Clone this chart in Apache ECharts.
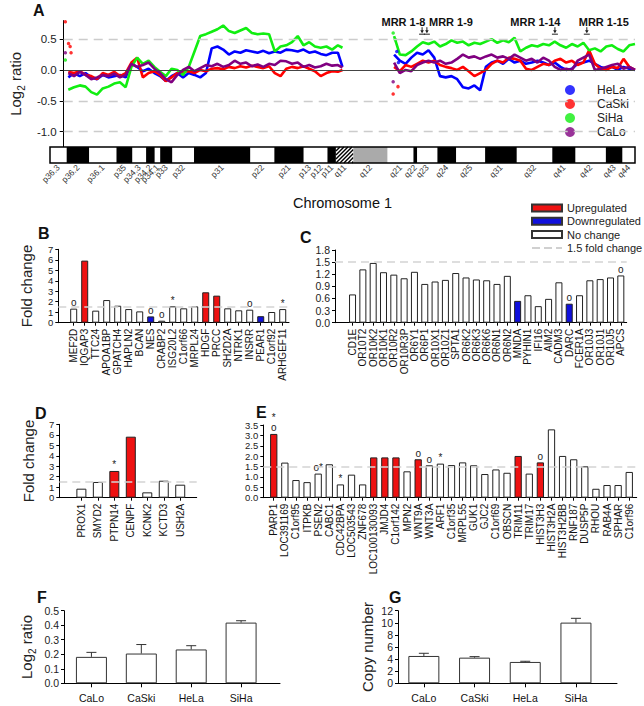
<!DOCTYPE html>
<html><head><meta charset="utf-8">
<script src="https://cdn.jsdelivr.net/npm/echarts@6/dist/echarts.min.js"></script>
<style>html,body{margin:0;padding:0;background:#fff}#c{width:644px;height:706px}</style>
</head><body><div id="c"></div>
<script>
// ===== Panel A: log2 ratio along chromosome 1 (positions in Mb) =====
const posP = [2,4.5,7,9.5,12,14.5,17,19.5,22,24.5,27,29.5,32,34.5,37,39.5,42,44.5,47,49.5,52,54.5,57,59.5,62,64.5,67,69.5,72,74.5,77,79.5,82,84.5,87,89.5,92,94.5,97,99.5,102,104.5,107,109.5,112,114.5,117,119.5,121.5];
const posQ = [144,146.5,149,151.5,154,156.5,159,161.5,164,166.5,169,171.5,174,176.5,179,181.5,184,186.5,189,191.5,194,196.5,199,201.5,204,206.5,209,211.5,214,216.5,219,221.5,224,226.5,229,231.5,234,236.5,239,241.5,244,246.5,249];

const helaP = [-0.12,-0.05,-0.10,-0.05,-0.12,-0.15,-0.08,-0.12,-0.10,-0.08,-0.12,0.10,0.05,-0.02,0.02,-0.05,-0.10,-0.18,-0.10,-0.05,-0.12,-0.05,-0.08,-0.12,-0.05,0.35,0.38,0.33,0.25,0.30,0.28,0.32,0.30,0.28,0.31,0.27,0.30,0.28,0.33,0.32,0.30,0.33,0.28,0.30,0.26,0.24,0.28,0.28,0.05];
const helaQ = [0.25,0.15,0.10,0.20,0.28,0.25,0.32,0.20,-0.10,-0.12,-0.10,-0.15,-0.28,-0.30,-0.25,-0.33,0.05,0.12,0.15,0.10,0.18,0.12,0.15,0.10,0.12,0.15,0.12,0.08,0.12,0.05,0.0,0.02,0.10,0.12,0.15,0.10,0.05,0.02,0.05,0.0,0.05,0.02,0.0];
const caskiP = [-0.03,-0.05,-0.02,-0.08,-0.10,-0.15,-0.05,-0.08,-0.03,-0.10,-0.05,0.12,0.20,-0.12,-0.05,-0.02,-0.08,-0.18,-0.12,-0.05,-0.03,-0.02,-0.05,0.00,-0.02,0.02,0.03,0.01,0.05,0.03,0.06,0.04,0.07,0.05,0.03,0.06,-0.05,-0.10,0.02,0.05,0.03,0.06,0.02,-0.02,-0.10,-0.05,-0.02,-0.03,0.0];
const caskiQ = [0.05,-0.02,0.08,0.05,0.10,0.15,0.12,0.15,0.08,0.05,0.03,0.0,0.05,-0.02,-0.10,-0.05,0.0,0.10,0.15,0.12,0.20,0.18,0.15,0.02,0.0,0.05,0.10,0.08,0.15,0.18,0.12,0.15,0.08,0.12,0.32,0.10,0.02,0.0,0.05,0.03,0.18,0.05,0.0];
const sihaP = [-0.32,-0.28,-0.25,-0.27,-0.36,-0.40,-0.30,-0.27,-0.22,-0.20,-0.28,0.05,0.20,0.10,0.15,0.05,-0.03,-0.10,0.02,0.00,-0.08,0.05,0.30,0.55,0.58,0.62,0.66,0.72,0.63,0.60,0.64,0.68,0.60,0.58,0.59,0.58,0.30,0.38,0.40,0.45,0.55,0.40,0.45,0.38,0.36,0.38,0.33,0.40,0.36];
const sihaQ = [0.55,0.25,0.24,0.30,0.38,0.45,0.42,0.46,0.38,0.42,0.48,0.44,0.46,0.40,0.44,0.42,0.46,0.50,0.44,0.48,0.45,0.52,0.30,0.36,0.40,0.38,0.42,0.40,0.46,0.40,0.36,0.42,0.38,0.44,0.32,0.35,0.30,0.38,0.40,0.34,0.30,0.40,0.42];
const caloP = [-0.05,-0.10,-0.03,-0.08,-0.15,-0.12,-0.08,-0.10,-0.06,-0.12,-0.08,0.10,0.05,0.08,0.12,0.02,-0.05,-0.15,-0.20,-0.08,0.00,0.05,-0.02,0.03,0.08,0.06,0.10,0.05,0.08,0.15,0.10,0.12,0.06,0.09,0.05,0.10,0.08,0.15,0.14,0.10,0.12,0.05,0.08,0.04,0.06,0.10,0.07,0.08,0.04];
const caloQ = [0.12,-0.05,0.0,-0.02,0.08,0.12,0.15,0.12,0.15,0.10,0.12,0.18,0.25,0.20,0.22,0.18,0.22,0.25,0.20,0.22,0.18,0.25,0.20,0.15,0.18,0.12,0.20,0.15,0.05,0.0,0.02,0.0,0.15,0.20,0.25,0.0,0.02,0.05,0.08,0.10,0.02,0.05,0.0];
// isolated probes [Mb, log2 ratio]
const helaDots = [[145.2,0.30],[145.9,0.12]];
const caskiDots = [[0.7,0.78],[2.1,0.43],[2.8,0.38],[3.2,0.28],[143.6,-0.39],[145.7,-0.27]];
const sihaDots = [[0.7,0.16],[143.6,0.60],[144.6,0.49]];
const caloDots = [[0.7,0.28],[143.6,-0.19]];
const aTicks = [-1.0,-0.5,0.0,0.5];
const aGrid = [0.5,-0.5,-1.0];

// minimal regions of recurrence
const mrrNames = ['MRR 1-8','MRR 1-9','MRR 1-14','MRR 1-15'];
const mrrMb = [156.2,158.3,214.1,228.0];
const mrrLabelMb = [148.1,168.8,205.6,235.4];

// ideogram of chromosome 1 (Mb)
const bandNames = ['p36.3','p36.2','p36.1','p35','p34.3','p34.2','p34.1','p33','p32','p31','p22','p21','p13','p12','p11','q11','q12','q21','q22','q23','q24','q25','q31','q32','q41','q42','q43','q44'];
const bandStart = [0,7.1,16.7,28.3,35.1,40.9,44.6,46.9,52.1,61.3,85.3,95.5,108.0,112.8,118.1,121.7,129.1,143.7,154.7,156.3,164.9,172.9,185.2,198.7,213.8,223.7,236.6,243.7];
const bandEnd = [7.1,16.7,28.3,35.1,40.9,44.6,46.9,52.1,61.3,85.3,95.5,108.0,112.8,118.1,121.7,129.1,143.7,154.7,156.3,164.9,172.9,185.2,198.7,213.8,223.7,236.6,243.7,249.0];
const bandStain = ['w','b','w','b','w','b','w','b','w','b','w','b','w','w','b','h','g','w','b','w','b','w','b','w','b','w','b','w'];

// ===== Panels B-E: fold change =====
const catsB = ['MEF2D','IQGAP3','TTC24','APOA1BP','GPATCH4','HAPLN2','BCAN','NES','CRABP2','ISG20L2','C1orf66','MRPL24','HDGF','PRCC','SH2D2A','NTRK1','INSRR','PEAR1','C1orf92','ARHGEF11'];
const valsB = [1.34,5.92,1.15,2.16,1.62,1.30,1.08,0.60,0.19,1.56,1.37,1.56,2.90,2.58,1.37,1.18,1.24,0.62,1.02,1.30];
const statB = ['n','u','n','n','n','n','n','d','n','n','n','n','u','u','n','n','n','d','n','n'];
const markB = ['o','','','','','','','o','o','*','','','','','','','o','','','*'];

const catsC = ['CD1E','OR10T2','OR10K2','OR10K1','OR10R2','OR10R3P','OR6Y1','OR6P1','OR10X1','OR10Z1','SPTA1','OR6K2','OR6K3','OR6K6','OR6N1','OR6N2','MNDA','PYHIN1','IFI16','AIM2','CADM3','DARC','FCER1A','OR10J3','OR10J1','OR10J5','APCS'];
const valsC = [0.70,1.32,1.48,1.25,1.19,1.10,1.26,0.96,1.02,1.06,1.23,1.12,1.07,1.05,0.96,1.16,0.54,0.68,0.41,0.59,1.00,0.47,0.68,1.05,1.08,1.12,1.17];
const statC = ['n','n','n','n','n','n','n','n','n','n','n','n','n','n','n','n','d','n','n','n','n','d','n','n','n','n','n'];
const markC = ['','','','','','','','','','','','','','','','','','','','','','o','','','','','o'];

const catsD = ['PROX1','SMYD2','PTPN14','CENPF','KCNK2','KCTD3','USH2A'];
const valsD = [0.86,1.50,2.55,5.82,0.51,1.62,1.24];
const statD = ['n','n','u','u','n','n','n'];
const markD = ['','','*','','','',''];

const catsE = ['PARP1','LOC391169','C1orf95','ITPKB','PSEN2','CABC1','CDC42BPA','LOC503543','ZNF678','LOC100130093','JMJD4','C1orf142','MPN2','WNT9A','WNT3A','ARF1','C1orf35','MRPL55','GUK1','GJC2','C1orf69','OBSCN','TRIM11','TRIM17','HIST3H3','HIST3H2A','HIST3H2BB','RNF187','DUSP5P','RHOU','RAB4A','SPHAR','C1orf96'];
const valsE = [3.07,1.69,0.85,0.75,1.16,1.61,0.64,1.11,0.64,1.94,1.94,1.94,1.27,1.85,1.56,1.64,1.57,1.70,1.56,1.14,1.36,1.20,2.01,1.16,1.70,3.29,2.01,1.85,1.51,0.43,0.61,0.61,1.24];
const statE = ['u','n','n','n','n','n','n','n','n','u','u','u','n','u','n','n','n','n','n','n','n','n','u','n','u','n','n','n','n','n','n','n','n'];
const markE = ['*\no','','','','o*','','*','','','','','','','o','o','*','','','','','','','','','o','','','','','','','',''];
const foldThreshold = 1.5;

// ===== Panels F, G =====
const cellLines = ['CaLo','CaSki','HeLa','SiHa'];
const fLog2 = [0.182,0.205,0.233,0.418];
const fErr = [0.031,0.062,0.026,0.013];
const gCopy = [4.52,4.24,3.53,10.03];
const gErr = [0.44,0.17,0.11,0.71];

// ---------------------------------------------------------------
const SANS = '"Liberation Sans",Arial,sans-serif';
const colA = {HeLa:'#0000ff', CaSki:'#ff0000', SiHa:'#11ee11', CaLo:'#800080'};
const statusColor = {u:'#ee1111', d:'#1010dd', n:'#ffffff'};
const subName = {rich:{a:{fontSize:15, fontFamily:SANS, color:'#222', verticalAlign:'bottom', lineHeight:15}, b:{fontSize:10, fontFamily:SANS, color:'#222', verticalAlign:'bottom', lineHeight:11, padding:[0,0,-3,0]}}};

const grids = [
  {left:50, top:20.6, width:585, height:126.5},
  {left:50, top:147, width:585, height:16, show:true, borderColor:'#000', borderWidth:1.5, backgroundColor:'rgba(0,0,0,0)', z:10},
  {left:58.3, top:249.3, width:230.7, height:73.4},
  {left:335, top:250, width:291.7, height:72.7},
  {left:59.3, top:424.3, width:137.4, height:73.4},
  {left:263.3, top:425, width:373.4, height:72.7},
  {left:64, top:610.7, width:216, height:72.6},
  {left:398, top:610.7, width:219, height:72.6}
];
const xAxes = [], yAxes = [], series = [];
const bandCenters = bandStart.map((s,i)=>(s+bandEnd[i])/2);

// A axes
xAxes.push({gridIndex:0, type:'value', min:0, max:249, show:false});
yAxes.push({gridIndex:0, type:'value', min:-1.25, max:0.8, splitLine:{show:false},
  axisLine:{show:true, onZero:false, lineStyle:{color:'#000'}},
  axisTick:{show:true, customValues:aTicks, length:4, lineStyle:{color:'#000'}},
  axisLabel:{customValues:aTicks, formatter:v=>v.toFixed(1), fontSize:11.5, lineHeight:9, color:'#222', margin:7},
  name:'{a|Log}{b|2}{a| ratio}', nameLocation:'middle', nameGap:31, nameTextStyle:subName});
// ideogram axes
xAxes.push({gridIndex:1, type:'value', min:0, max:249, splitLine:{show:false}, axisLine:{show:false}, axisTick:{show:false},
  axisLabel:{customValues:bandCenters, rotate:45, margin:3, fontSize:8.5, lineHeight:6, color:'#333',
    formatter:v=>{let k=0,d=1e9;bandCenters.forEach((c,i)=>{if(Math.abs(c-v)<d){d=Math.abs(c-v);k=i;}});return bandNames[k];}},
  name:'Chromosome 1', nameLocation:'middle', nameGap:32, nameTextStyle:{fontSize:14.5, color:'#111'}});
yAxes.push({gridIndex:1, type:'value', min:0, max:1, show:false});

function yAxisDef(gi, max, interval, fmt, name, gap, fs){
  const d = {gridIndex:gi, type:'value', min:0, max:max, interval:interval, splitLine:{show:false},
    axisLine:{show:true, onZero:false, lineStyle:{color:'#000'}},
    axisTick:{show:true, length:3, lineStyle:{color:'#000'}},
    axisLabel:{formatter:fmt, fontSize:fs, lineHeight:6, textMargin:0, color:'#222', margin:5, showMinLabel:true, showMaxLabel:true}};
  if(name){ d.name=name; d.nameLocation='middle'; d.nameGap=gap; d.nameTextStyle={fontSize:15, color:'#222'}; }
  return d;
}
function barPanel(gi, cats, vals, stat, marks, xmin, xmax, ymax, yint, fmt, barW, yName, gap, yfs){
  const idx = cats.map((c,i)=>i);
  xAxes.push({gridIndex:gi, type:'value', min:xmin, max:xmax, splitLine:{show:false},
    axisLine:{onZero:false, lineStyle:{color:'#000'}},
    axisTick:{customValues:idx, length:3, lineStyle:{color:'#000'}},
    axisLabel:{customValues:idx, rotate:90, formatter:v=>cats[Math.round(v)], fontSize:10, lineHeight:7, color:'#111', margin:6}});
  yAxes.push(yAxisDef(gi, ymax, yint, fmt, yName, gap, yfs));
  series.push({type:'bar', xAxisIndex:gi, yAxisIndex:gi, z:3, barWidth:barW,
    data: vals.map((v,i)=>[i,v]),
    itemStyle:{color:p=>statusColor[stat[p.dataIndex]], borderColor:'#222', borderWidth:1},
    label:{show:true, position:'top', distance:1, formatter:p=>marks[p.dataIndex], fontSize:10, lineHeight:10, color:'#222'}});
  series.push({name:'1.5 fold change', type:'line', xAxisIndex:gi, yAxisIndex:gi, z:1, data:[], symbol:'none', showSymbol:false,
    itemStyle:{color:'#d0d0d0'}, lineStyle:{color:'#d0d0d0', type:'dashed', width:1.5},
    markLine:{silent:true, symbol:'none', label:{show:false}, lineStyle:{color:'#d4d4d4', type:[8,5], width:1.5}, data:[{yAxis:foldThreshold}]}});
}

barPanel(2, catsB, valsB, statB, markB, -1.4, 19.57, 7, 1, v=>v, 7, 'Fold change', 24, 9.5);
barPanel(3, catsC, valsC, statC, markC, -1.7, 26.57, 1.8, 0.3, v=>v.toFixed(1), 7, null, 0, 10.5);
barPanel(4, catsD, valsD, statD, markD, -1.34, 7.0, 7, 1, v=>v, 10, 'Fold change', 23, 9.5);
barPanel(5, catsE, valsE, statE, markE, -0.94, 32.67, 3.5, 0.5, v=>v.toFixed(1), 7.3, null, 0, 9.5);

function errPanel(gi, vals, errs, xmin, xmax, ymax, yint, fmt, yName, gap, richName){
  const idx = cellLines.map((c,i)=>i);
  xAxes.push({gridIndex:gi, type:'value', min:xmin, max:xmax, splitLine:{show:false},
    axisLine:{onZero:false, lineStyle:{color:'#000'}},
    axisTick:{customValues:idx, length:4, lineStyle:{color:'#000'}},
    axisLabel:{customValues:idx, formatter:v=>cellLines[Math.round(v)], fontSize:10.5, color:'#111', margin:9}});
  const y = yAxisDef(gi, ymax, yint, fmt, yName, gap, 10.5);
  if(richName){ y.nameTextStyle = richName; }
  yAxes.push(y);
  series.push({type:'bar', xAxisIndex:gi, yAxisIndex:gi, z:3, barWidth:31, data:vals.map((v,i)=>[i,v]),
    itemStyle:{color:'#fff', borderColor:'#333', borderWidth:1}});
  series.push({type:'custom', xAxisIndex:gi, yAxisIndex:gi, z:4, data:vals.map((v,i)=>[i,v,errs[i]]),
    renderItem:(params, api)=>{
      const i=api.value(0), v=api.value(1), e=api.value(2);
      const b=api.coord([i,v]), t=api.coord([i,v+e]);
      return {type:'group', children:[
        {type:'line', shape:{x1:b[0],y1:b[1],x2:t[0],y2:t[1]}, style:{stroke:'#333', lineWidth:1}},
        {type:'line', shape:{x1:t[0]-5,y1:t[1],x2:t[0]+5,y2:t[1]}, style:{stroke:'#333', lineWidth:1}}]};
    }});
}
errPanel(6, fLog2, fErr, -0.55, 3.78, 0.5, 0.1, v=>v.toFixed(1), '{a|Log}{b|2}{a| ratio}', 30, subName);
errPanel(7, gCopy, gErr, -0.51, 3.81, 12, 2, v=>v, 'Copy number', 23, null);

// ----- Panel A series -----
const gapPt = [[132,'-']];
function lineData(p,q){ return posP.map((x,i)=>[x,p[i]]).concat(gapPt, posQ.map((x,i)=>[x,q[i]])); }
series.push({type:'line', xAxisIndex:0, yAxisIndex:0, data:[], z:1,
  markLine:{silent:true, symbol:'none', label:{show:false},
    data: aGrid.map(v=>({yAxis:v, lineStyle:{color:'#cccccc', type:[9,6], width:1.3}})).concat([{yAxis:0, lineStyle:{color:'#444', type:'solid', width:1}}])}});
// probe dots (named by cell line; they carry the legend)
[['HeLa',helaDots],['CaSki',caskiDots],['SiHa',sihaDots],['CaLo',caloDots]].forEach(([n,d])=>{
  series.push({name:n, type:'scatter', xAxisIndex:0, yAxisIndex:0, z:2, data:d, symbolSize:3.5, itemStyle:{color:colA[n]}});
});
[['HeLa',helaP,helaQ],['CaSki',caskiP,caskiQ],['SiHa',sihaP,sihaQ],['CaLo',caloP,caloQ]].forEach(([n,p,q])=>{
  series.push({name:n+' profile', type:'line', xAxisIndex:0, yAxisIndex:0, z:2, data:lineData(p,q), showSymbol:false,
    connectNulls:false, color:colA[n], lineStyle:{width:2.6, color:colA[n]}, itemStyle:{color:colA[n]}});
});
// MRR annotations
series.push({type:'custom', xAxisIndex:0, yAxisIndex:0, z:5, data:mrrMb.map((m,i)=>[m, mrrLabelMb[i]]),
  renderItem:(params, api)=>{
    const r = api.coord([api.value(0), 0.58]);
    const l = api.coord([api.value(1), 0.58]);
    const x = r[0], y = r[1];
    return {type:'group', children:[
      {type:'text', style:{text:mrrNames[params.dataIndex], x:l[0], y:y-7, align:'center', verticalAlign:'bottom', fontSize:11, fontWeight:'bold', fontFamily:SANS, fill:'#111'}},
      {type:'line', shape:{x1:x, y1:y-7, x2:x, y2:y-2}, style:{stroke:'#222', lineWidth:1}},
      {type:'polygon', shape:{points:[[x-1.8,y-4],[x+1.8,y-4],[x,y-1]]}, style:{fill:'#222'}},
      {type:'line', shape:{x1:x-3, y1:y, x2:x+3, y2:y}, style:{stroke:'#222', lineWidth:1}}
    ]};
  }});
// ideogram bands
series.push({type:'custom', xAxisIndex:1, yAxisIndex:1, z:2, data:bandStart.map((s,i)=>[s, bandEnd[i]]),
  renderItem:(params, api)=>{
    const p0 = api.coord([api.value(0),1]), p1 = api.coord([api.value(1),0]);
    const x=p0[0], y=p0[1], w=p1[0]-p0[0], h=p1[1]-p0[1];
    const st = bandStain[params.dataIndex];
    const fill = st==='b' ? '#000' : st==='g' ? '#aaaaaa' : '#fff';
    const kids = [{type:'rect', shape:{x, y, width:w, height:h}, style:{fill}}];
    if(st==='h'){
      for(let a=x-h; a<x+w; a+=4){
        const t0=Math.max(0,x-a), t1=Math.min(h,x+w-a);
        if(t1>t0) kids.push({type:'line', shape:{x1:a+t0, y1:y+h-t0, x2:a+t1, y2:y+h-t1}, style:{stroke:'#000', lineWidth:1.4}});
      }
    }
    return {type:'group', children:kids};
  }});
// legend-only series
series.push({name:'Upregulated', type:'bar', xAxisIndex:1, yAxisIndex:1, data:[], itemStyle:{color:'#ee1111', borderColor:'#333', borderWidth:1}});
series.push({name:'Downregulated', type:'bar', xAxisIndex:1, yAxisIndex:1, data:[], itemStyle:{color:'#1010dd', borderColor:'#333', borderWidth:1}});
series.push({name:'No change', type:'bar', xAxisIndex:1, yAxisIndex:1, data:[], itemStyle:{color:'#fff', borderColor:'#333', borderWidth:1}});

const letters = [['A',33,2],['B',38,225],['C',300,229],['D',35,405],['E',256,404],['F',37,589],['G',389,589]];
const option = {
  animation:false,
  textStyle:{fontFamily:SANS},
  title: letters.map(([t,l,tp])=>({text:t, left:l, top:tp, padding:0, textStyle:{fontSize:16, fontWeight:'bold', color:'#111'}})),
  grid: grids,
  xAxis: xAxes, yAxis: yAxes,
  legend:[
    {data:['HeLa','CaSki','SiHa','CaLo'].map(n=>({name:n, icon:'circle'})), orient:'vertical', left:565, top:83, padding:0, itemWidth:10, itemHeight:10, itemGap:0, selectedMode:false,
      textStyle:{fontSize:12, lineHeight:14, color:'#222', padding:[0,0,0,17]}},
    {data:[{name:'Upregulated',icon:'rect'},{name:'Downregulated',icon:'rect'},{name:'No change',icon:'rect'},{name:'1.5 fold change', itemStyle:{opacity:0}}],
      orient:'vertical', left:531, top:201.5, padding:0, itemWidth:30, itemHeight:7, itemGap:0.3, selectedMode:false,
      textStyle:{fontSize:11, lineHeight:13, color:'#222'}}
  ],
  series: series
};
const chart = echarts.init(document.getElementById('c'), null, {renderer:'svg', width:644, height:706});
chart.setOption(option);
</script></body></html>
